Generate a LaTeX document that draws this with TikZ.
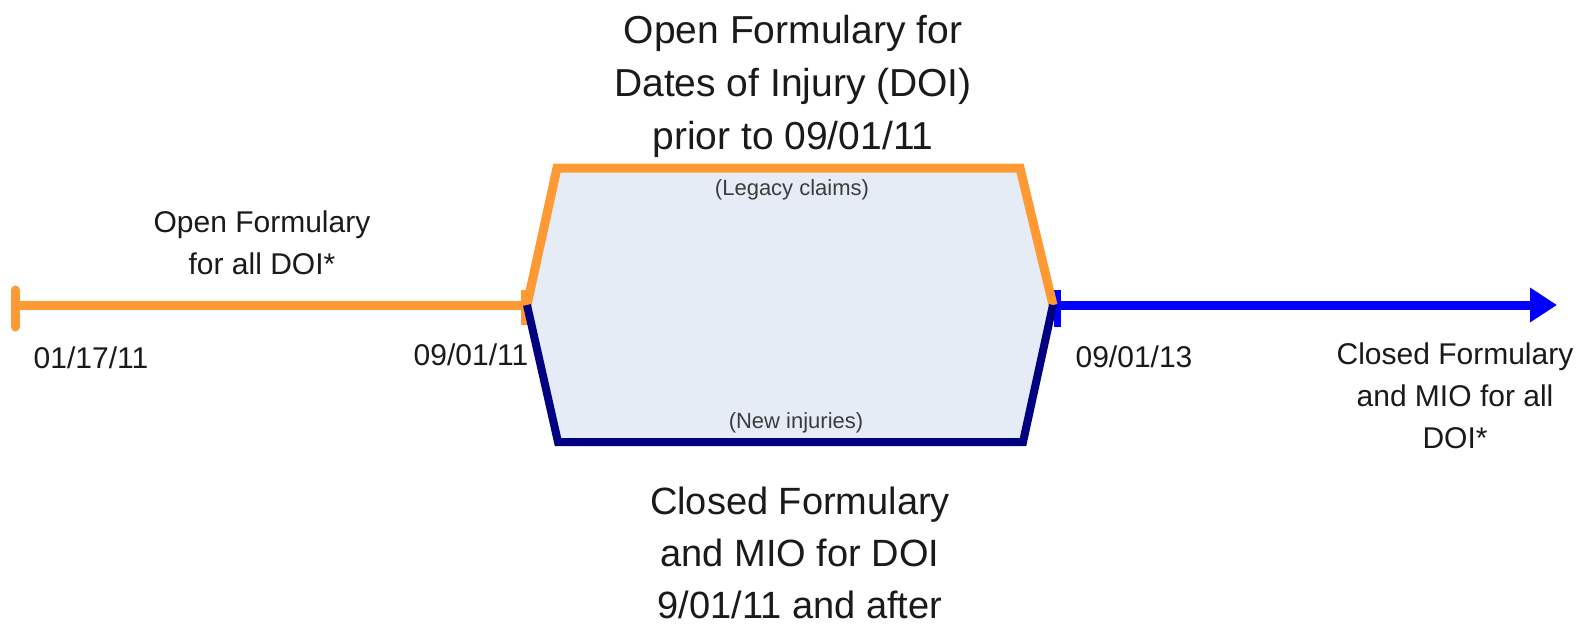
\documentclass[tikz,border=0pt]{standalone}
\usepackage{fontspec}
\setmainfont{Liberation Sans}
\usetikzlibrary{arrows.meta}
\definecolor{orng}{HTML}{FF9933}
\definecolor{navy}{HTML}{000080}
\definecolor{brightblue}{HTML}{0000FF}
\definecolor{boxfill}{HTML}{E6ECF6}
\definecolor{txt}{HTML}{1A1A1A}
\tikzset{
  bigtext/.style={align=center, text=txt, font=\fontsize{39}{53}\selectfont, inner sep=0pt},
  bottomtext/.style={align=center, text=txt, font=\fontsize{38}{52}\selectfont, inner sep=0pt},
  midtext/.style={align=center, text=txt, font=\fontsize{30}{42}\selectfont, inner sep=0pt},
  smalltext/.style={align=center, text=txt!85, font=\fontsize{22}{26}\selectfont, inner sep=0pt},
  orangeline/.style={draw=orng, line width=9pt},
  navyline/.style={draw=navy, line width=8pt},
  blueline/.style={draw=brightblue, line width=9pt}
}
\begin{document}
\begin{tikzpicture}[x=1pt,y=-1pt]
\useasboundingbox (0,0) rectangle (1589,626);
% key points
\coordinate (start) at (15,305);
\coordinate (s1) at (527,305);
\coordinate (tl) at (557,168);
\coordinate (tr) at (1020,168);
\coordinate (s2) at (1053,305);
\coordinate (br) at (1023,442);
\coordinate (bl) at (558,442);
\coordinate (endp) at (1557,305);
% fill
\fill[boxfill] (s1) -- (tl) -- (tr) -- (s2) -- (br) -- (bl) -- cycle;
% left segment
\draw[orangeline] (start) -- (s1);
\draw[orng, line width=9pt, line cap=round] (15,290) -- (15,327);
\draw[orng, line width=7pt] (524,290) -- (524,325);
% right segment
\draw[brightblue, line width=7pt] (1057,290) -- (1057,327);
\draw[blueline, -{Triangle[length=27pt,width=33pt]}] (s2) -- (endp);
% top (orange) and bottom (navy) branches
\draw[orangeline] (s1) -- (tl) -- (tr) -- (s2);
\draw[navyline] (s1) -- (bl) -- (br) -- (s2);
% texts
\node[bigtext] (top) at (793,86) {Open Formulary for\\Dates of Injury (DOI)\\prior to 09/01/11};
\node[bottomtext] (bottom) at (800,553) {Closed Formulary\\and MIO for DOI\\9/01/11 and after};
\node[midtext] (left) at (262,243) {Open Formulary\\for all DOI*};
\node[midtext] (right) at (1455,396) {Closed Formulary\\and MIO for all\\DOI*};
\node[midtext] (d1) at (91,358) {01/17/11};
\node[midtext] (d2) at (471,355) {09/01/11};
\node[midtext] (d3) at (1134,357) {09/01/13};
\node[smalltext] (legacy) at (792,190) {(Legacy claims)};
\node[smalltext] (newinj) at (796,423) {(New injuries)};
\end{tikzpicture}
\end{document}
